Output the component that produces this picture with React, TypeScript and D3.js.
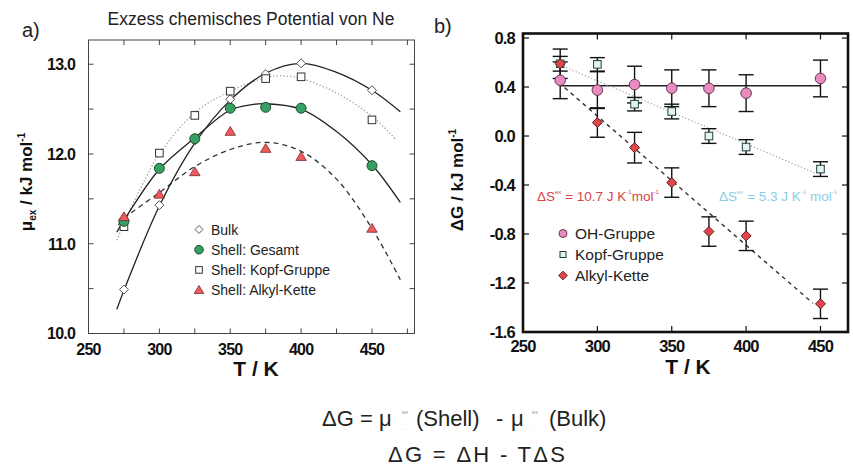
import * as d3 from 'd3';
import React from 'react';

// ---- panel a: excess chemical potential of Ne (kJ/mol) ----
const tempsA = [275, 300, 325, 350, 375, 400, 450];
const bulkVals = [10.49, 11.43, 12.15, 12.61, 12.89, 13.01, 12.71];
const gesamtVals = [11.25, 11.84, 12.17, 12.51, 12.52, 12.51, 11.87];
const kopfVals = [11.19, 12.01, 12.43, 12.7, 12.84, 12.86, 12.38];
const alkylVals = [11.3, 11.55, 11.8, 12.25, 12.06, 11.97, 11.17];

// fitted curves
const bulkFitT = [270, 275, 300, 325, 350, 375, 400, 425, 450, 470];
const bulkFitV = [10.27, 10.48, 11.42, 12.12, 12.6, 12.9, 13.01, 12.91, 12.71, 12.47];
const gesamtFitT = [270, 275, 300, 325, 350, 365, 375, 400, 425, 450, 470];
const gesamtFitV = [11.13, 11.26, 11.83, 12.18, 12.49, 12.55, 12.56, 12.5, 12.25, 11.88, 11.46];
const kopfFitT = [270, 280, 290, 300, 325, 350, 375, 385, 400, 425, 450, 467];
const kopfFitV = [11.04, 11.4, 11.72, 12.0, 12.46, 12.7, 12.85, 12.87, 12.84, 12.68, 12.42, 12.16];
const alkylFitT = [271, 275, 300, 325, 350, 375, 400, 425, 450, 470];
const alkylFitV = [11.21, 11.28, 11.57, 11.86, 12.05, 12.13, 12.03, 11.72, 11.17, 10.6];

const legendA = ['Bulk', 'Shell: Gesamt', 'Shell: Kopf-Gruppe', 'Shell: Alkyl-Kette'];
const xTicksA = [250, 300, 350, 400, 450];
const yTicksA = [10, 11, 12, 13];

// ---- panel b: delta G (kJ/mol) ----
const tempsB = [275, 300, 325, 350, 375, 400, 450];
const ohVals = [0.455, 0.375, 0.42, 0.39, 0.39, 0.35, 0.47];
const ohErr = [0.15, 0.15, 0.15, 0.15, 0.15, 0.15, 0.15];
const kopfBVals = [0.59, 0.585, 0.26, 0.2, 0.0, -0.09, -0.27];
const kopfBErr = [0.06, 0.055, 0.055, 0.06, 0.06, 0.06, 0.06];
const alkylBVals = [0.59, 0.11, -0.095, -0.38, -0.78, -0.815, -1.37];
const alkylBErr = [0.12, 0.12, 0.125, 0.12, 0.12, 0.12, 0.12];

const ohFitT = [275, 450];
const ohFitV = [0.41, 0.41];
const kopfBFitT = [279, 447];
const kopfBFitV = [0.558, -0.305];
const alkylBFitT = [278, 445];
const alkylBFitV = [0.395, -1.366];

const legendB = ['OH-Gruppe', 'Kopf-Gruppe', 'Alkyl-Kette'];
const xTicksB = [250, 300, 350, 400, 450];
const yTicksB = [-1.6, -1.2, -0.8, -0.4, 0.0, 0.4, 0.8];

const FONT = '"Liberation Sans", Arial, Helvetica, sans-serif';
const GREEN = '#35a062';
const RED_TRI = '#ee5a5e';
const PINK = '#e68cbf';
const RED_DIA = '#e2464c';

const fmt = (v) => v.toFixed(1);

function Diamond({ x, y, s = 4.5, fill = '#fff', stroke = '#555' }) {
  return (
    <path
      d={`M${x},${y - s}L${x + s},${y}L${x},${y + s}L${x - s},${y}Z`}
      fill={fill}
      stroke={stroke}
      strokeWidth={1}
    />
  );
}

function Square({ x, y, s = 3.8, fill = '#fff', stroke = '#333' }) {
  return <rect x={x - s} y={y - s} width={s * 2} height={s * 2} fill={fill} stroke={stroke} strokeWidth={1} />;
}

function Triangle({ x, y, s = 5, fill = RED_TRI, stroke = '#7a2a2a' }) {
  return (
    <path
      d={`M${x},${y - s}L${x + s * 1.05},${y + s * 0.75}L${x - s * 1.05},${y + s * 0.75}Z`}
      fill={fill}
      stroke={stroke}
      strokeWidth={0.8}
    />
  );
}

function Dot({ x, y, r = 5, fill = GREEN, stroke = '#1d4d2e' }) {
  return <circle cx={x} cy={y} r={r} fill={fill} stroke={stroke} strokeWidth={1} />;
}

export default function App() {
  const xA = d3.scaleLinear().domain([250, 480]).range([88.5, 414.5]);
  const yA = d3.scaleLinear().domain([10, 13.27]).range([333.5, 40]);
  const xB = d3.scaleLinear().domain([250, 468.5]).range([523, 848]);
  const yB = d3.scaleLinear().domain([-1.6, 0.837]).range([332, 33.5]);

  const lineA = (ts, vs) =>
    d3
      .line()
      .x((d) => xA(d[0]))
      .y((d) => yA(d[1]))
      .curve(d3.curveCatmullRom.alpha(0.5))(ts.map((t, i) => [t, vs[i]]));
  const lineB = (ts, vs) =>
    d3
      .line()
      .x((d) => xB(d[0]))
      .y((d) => yB(d[1]))(ts.map((t, i) => [t, vs[i]]));

  const [aL, aR] = xA.range();
  const [aB, aT] = yA.range();
  const [bL, bR] = xB.range();
  const [bB, bT] = yB.range();

  const minorXA = d3.range(250, 480, 25);
  const minorYA = d3.range(10, 13.26, 0.5);

  const errBar = (x, y0, y1, key) => (
    <g key={key} stroke="#111" strokeWidth={1.4}>
      <line x1={x} x2={x} y1={y0} y2={y1} />
      <line x1={x - 7.5} x2={x + 7.5} y1={y0} y2={y0} />
      <line x1={x - 7.5} x2={x + 7.5} y1={y1} y2={y1} />
    </g>
  );

  return (
    <svg
      width={853}
      height={475}
      style={{ position: 'absolute', left: 0, top: 0, background: '#fff' }}
      fontFamily={FONT}
    >
      {/* ================= panel a ================= */}
      <text x={22} y={37} fontSize={20} fill="#222">a)</text>
      <text x={251} y={25} fontSize={17.5} textAnchor="middle" fill="#222">
        Exzess chemisches Potential von Ne
      </text>

      <rect x={aL} y={aT} width={aR - aL} height={aB - aT} fill="none" stroke="#444" strokeWidth={1} />
      {minorXA.map((t) => (
        <g key={'xa' + t} stroke="#444">
          <line x1={xA(t)} x2={xA(t)} y1={aB} y2={aB - 5} />
          <line x1={xA(t)} x2={xA(t)} y1={aT} y2={aT + 5} />
        </g>
      ))}
      {minorYA.map((v) => (
        <g key={'ya' + v} stroke="#444">
          <line x1={aL} x2={aL + 5} y1={yA(v)} y2={yA(v)} />
          <line x1={aR} x2={aR - 5} y1={yA(v)} y2={yA(v)} />
        </g>
      ))}
      {xTicksA.map((t) => (
        <text key={'xal' + t} x={xA(t)} y={355} textAnchor="middle" fontSize={16} fontWeight="bold" letterSpacing={-0.8} fill="#111">
          {t}
        </text>
      ))}
      {yTicksA.map((v) => (
        <text key={'yal' + v} x={75} y={yA(v)} dy="0.36em" textAnchor="end" fontSize={16} fontWeight="bold" letterSpacing={-0.8} fill="#111">
          {fmt(v)}
        </text>
      ))}
      <text x={256} y={376} textAnchor="middle" fontSize={21} fontWeight="bold" fill="#111">T / K</text>
      <text transform="translate(32,182) rotate(-90)" textAnchor="middle" fontSize={17} fontWeight="bold" fill="#111">
        μ<tspan fontSize={10} dy={4}>ex</tspan>
        <tspan dy={-4}> / kJ mol</tspan>
        <tspan fontSize={10} dy={-7}>-1</tspan>
      </text>

      {/* fitted curves */}
      <path d={lineA(kopfFitT, kopfFitV)} fill="none" stroke="#9a9a9a" strokeWidth={1.3} strokeDasharray="1.2,2.2" />
      <path d={lineA(alkylFitT, alkylFitV)} fill="none" stroke="#333" strokeWidth={1.3} strokeDasharray="5,4" />
      <path d={lineA(bulkFitT, bulkFitV)} fill="none" stroke="#222" strokeWidth={1.3} />
      <path d={lineA(gesamtFitT, gesamtFitV)} fill="none" stroke="#222" strokeWidth={1.3} />

      {/* points */}
      {tempsA.map((t, i) => (
        <Diamond key={'bd' + i} x={xA(t)} y={yA(bulkVals[i])} />
      ))}
      {tempsA.map((t, i) => (
        <Square key={'ks' + i} x={xA(t)} y={yA(kopfVals[i])} />
      ))}
      {tempsA.map((t, i) => (
        <Dot key={'gs' + i} x={xA(t)} y={yA(gesamtVals[i])} />
      ))}
      {tempsA.map((t, i) => (
        <Triangle key={'at' + i} x={xA(t)} y={yA(alkylVals[i])} />
      ))}

      {/* legend a */}
      {legendA.map((name, i) => {
        const ly = 229.5 + i * 20.2;
        const mx = 199;
        return (
          <g key={'la' + i}>
            {i === 0 && <Diamond x={mx} y={ly} s={4} />}
            {i === 1 && <Dot x={mx} y={ly} r={4.3} />}
            {i === 2 && <Square x={mx} y={ly} s={3.3} />}
            {i === 3 && <Triangle x={mx} y={ly} s={4.6} />}
            <text x={211} y={ly} dy="0.36em" fontSize={14} fill="#222">
              {name}
            </text>
          </g>
        );
      })}

      {/* ================= panel b ================= */}
      <text x={434} y={33} fontSize={20} fill="#222">b)</text>
      <rect x={bL} y={bT} width={bR - bL} height={bB - bT} fill="none" stroke="#111" strokeWidth={2.6} />
      {xTicksB.map((t) => (
        <g key={'xb' + t} stroke="#111" strokeWidth={1.2}>
          <line x1={xB(t)} x2={xB(t)} y1={bB} y2={bB - 6} />
          <line x1={xB(t)} x2={xB(t)} y1={bT} y2={bT + 6} />
        </g>
      ))}
      {yTicksB.map((v) => (
        <g key={'yb' + v} stroke="#111" strokeWidth={1.2}>
          <line x1={bL} x2={bL + 6} y1={yB(v)} y2={yB(v)} />
          <line x1={bR} x2={bR - 6} y1={yB(v)} y2={yB(v)} />
        </g>
      ))}
      {xTicksB.map((t) => (
        <text key={'xbl' + t} x={xB(t)} y={352} textAnchor="middle" fontSize={16.5} fontWeight="bold" letterSpacing={-0.8} fill="#111">
          {t}
        </text>
      ))}
      {yTicksB.map((v) => (
        <text key={'ybl' + v} x={515} y={yB(v)} dy="0.36em" textAnchor="end" fontSize={16.5} fontWeight="bold" letterSpacing={-0.8} fill="#111">
          {fmt(v)}
        </text>
      ))}
      <text x={688} y={374} textAnchor="middle" fontSize={21} fontWeight="bold" fill="#111">T / K</text>
      <text transform="translate(463,180) rotate(-90)" textAnchor="middle" fontSize={17} fontWeight="bold" fill="#111">
        ΔG / kJ mol<tspan fontSize={10} dy={-7}>-1</tspan>
      </text>

      {/* fit lines b */}
      <path d={lineB(ohFitT, ohFitV)} fill="none" stroke="#222" strokeWidth={1.4} />
      <path d={lineB(kopfBFitT, kopfBFitV)} fill="none" stroke="#a8a8a8" strokeWidth={1.3} strokeDasharray="1.2,2.2" />
      <path d={lineB(alkylBFitT, alkylBFitV)} fill="none" stroke="#333" strokeWidth={1.4} strokeDasharray="4,4" />

      {/* error bars */}
      {tempsB.map((t, i) => errBar(xB(t), yB(ohVals[i] + ohErr[i]), yB(ohVals[i] - ohErr[i]), 'eo' + i))}
      {tempsB.map((t, i) => errBar(xB(t), yB(kopfBVals[i] + kopfBErr[i]), yB(kopfBVals[i] - kopfBErr[i]), 'ek' + i))}
      {tempsB.map((t, i) => errBar(xB(t), yB(alkylBVals[i] + alkylBErr[i]), yB(alkylBVals[i] - alkylBErr[i]), 'ea' + i))}

      {/* points b */}
      {tempsB.map((t, i) => (
        <Square key={'kb' + i} x={xB(t)} y={yB(kopfBVals[i])} s={3.8} fill="#e2f3f0" stroke="#1f3f3f" />
      ))}
      {tempsB.map((t, i) => (
        <Dot key={'ob' + i} x={xB(t)} y={yB(ohVals[i])} r={5.3} fill={PINK} stroke="#6a3550" />
      ))}
      {tempsB.map((t, i) => (
        <Diamond key={'ab' + i} x={xB(t)} y={yB(alkylBVals[i])} s={5} fill={RED_DIA} stroke="#5a1d1d" />
      ))}

      {/* entropy annotations */}
      <text x={537} y={201} fontSize={13.5} fill="#d8434a">
        ΔS<tspan fontSize={6} dy={-7}>ex</tspan>
        <tspan dy={7}> = 10.7 J K</tspan>
        <tspan fontSize={6} dy={-7}>-1</tspan>
        <tspan dy={7}>mol</tspan>
        <tspan fontSize={6} dy={-7}>-1</tspan>
      </text>
      <text x={719} y={201} fontSize={13.5} fill="#8ccbe6">
        ΔS<tspan fontSize={6} dy={-7}>ex</tspan>
        <tspan dy={7}> = 5.3 J K</tspan>
        <tspan fontSize={6} dy={-7}>-1</tspan>
        <tspan dy={7}> mol</tspan>
        <tspan fontSize={6} dy={-7}>-1</tspan>
      </text>

      {/* legend b */}
      {legendB.map((name, i) => {
        const ly = 233.5 + i * 21;
        const mx = 563;
        return (
          <g key={'lb' + i}>
            {i === 0 && <Dot x={mx} y={ly} r={4} fill={PINK} stroke="#6a3550" />}
            {i === 1 && <Square x={mx} y={ly} s={3} fill="#e2f3f0" stroke="#1f3f3f" />}
            {i === 2 && <Diamond x={mx} y={ly} s={4.3} fill={RED_DIA} stroke="#5a1d1d" />}
            <text x={575} y={ly} dy="0.36em" fontSize={15.5} fill="#222">
              {name}
            </text>
          </g>
        );
      })}

      {/* ================= formulas ================= */}
      <g fontSize={22} fill="#222">
        <text x={322} y={426}>ΔG = μ</text>
        <text x={402} y={414} fontSize={6} fill="#999">ex</text>
        <text x={402} y={430} fontSize={5} fill="#bbb">. .</text>
        <text x={416} y={426}>(Shell)</text>
        <text x={496} y={426}>-</text>
        <text x={511} y={426}>μ</text>
        <text x={532} y={414} fontSize={6} fill="#999">ex</text>
        <text x={532} y={430} fontSize={5} fill="#bbb">. .</text>
        <text x={549} y={426}>(Bulk)</text>
        <text x={388} y={462} textLength={177} lengthAdjust="spacing">ΔG = ΔH - TΔS</text>
      </g>
    </svg>
  );
}
